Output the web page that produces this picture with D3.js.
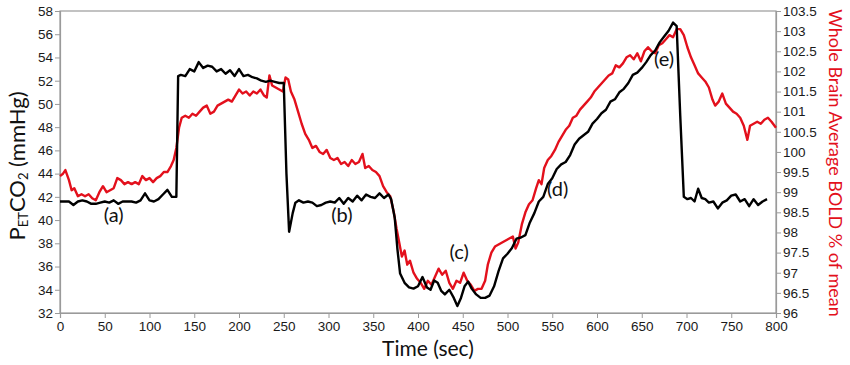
<!DOCTYPE html>
<html><head><meta charset="utf-8">
<script src="https://cdn.jsdelivr.net/npm/d3@7"></script>
<style>
html,body{margin:0;padding:0;background:#fff;}
svg{display:block;}
</style></head><body>
<svg id="chart" width="850" height="365"></svg>
<script>
// ---- data ----
const xTicks = [0,50,100,150,200,250,300,350,400,450,500,550,600,650,700,750,800];
const leftTicks = [32,34,36,38,40,42,44,46,48,50,52,54,56,58];
const rightTicks = [96,96.5,97,97.5,98,98.5,99,99.5,100,100.5,101,101.5,102,102.5,103,103.5];

const petTime = [0,5,10,15,20,25,30,35,40,45,50,55,60,65,70,75,80,85,90,95,100,105,110,115,120,125,130,132,
 135,140,145,150,155,160,165,170,175,180,185,190,195,200,205,210,215,220,225,230,235,240,245,250,253,256,260,263,267,
 272,277,282,287,292,297,302,307,312,317,322,327,332,337,342,347,352,357,362,367,370,374,377,380,385,390,395,400,405,
 410,414,418,422,426,430,435,440,444,448,452,456,460,465,470,475,480,485,490,495,500,505,510,515,520,525,530,535,540,
 545,550,555,560,565,570,575,580,585,590,595,600,605,610,615,620,625,630,635,640,645,650,655,660,665,670,675,680,685,
 689,693,697,701,705,709,713,717,721,725,730,735,740,745,750,755,760,765,770,775,780,785,790];
const petCO2 = [41.6,41.6,41.6,41.3,41.6,41.7,41.6,41.4,41.4,41.5,41.6,41.5,41.7,41.4,41.6,41.6,41.6,41.5,41.7,42.3,41.7,41.6,41.8,42.2,42.6,42.0,42.0,52.4,
 52.5,52.4,53.0,52.8,53.6,53.1,53.3,53.2,52.8,53.0,52.6,52.9,52.4,53.0,52.4,52.5,52.3,52.2,52.0,51.9,52.0,51.9,51.8,51.8,44.0,39.0,40.6,41.5,41.7,
 41.5,41.6,41.5,41.2,41.3,41.5,41.6,41.5,41.9,41.4,41.9,41.6,42.1,41.7,42.2,42.0,41.9,42.3,41.9,42.2,41.8,40.2,37.5,35.4,34.6,34.2,34.1,34.3,35.1,
 34.2,34.0,34.8,34.6,33.9,33.6,34.0,33.3,32.6,33.3,34.3,34.7,34.1,33.6,33.3,33.3,33.5,34.3,35.6,36.7,37.1,37.6,38.4,38.5,38.7,39.8,40.6,41.6,42.0,
 43.1,43.6,44.4,44.8,45.0,45.6,46.5,47.0,47.3,47.6,48.3,48.7,49.2,49.5,50.2,50.4,51.0,51.3,51.8,52.5,52.7,53.1,53.6,54.2,54.6,55.3,55.8,56.3,57.0,
 56.7,49.0,42.0,41.8,41.9,41.6,42.7,41.9,41.8,41.5,41.6,41.0,41.5,41.7,42.1,42.2,41.6,41.8,41.2,41.8,41.3,41.6,41.8];

const boldTime = [0,3,6,10,13,16,20,24,28,32,36,40,44,48,52,56,60,64,68,72,76,80,84,88,92,96,100,104,108,112,116,120,124,127,130,133,136,
 140,144,148,152,156,160,164,168,172,176,180,184,188,192,196,200,204,208,212,216,220,224,228,231,234,237,241,245,249,252,255,258,262,266,
 270,274,278,282,286,290,294,298,302,306,310,314,318,322,326,330,334,338,341,345,349,353,357,361,365,369,373,376,379,382,385,388,391,395,
 399,403,407,411,415,419,423,427,431,435,439,443,447,451,455,459,463,467,471,475,478,482,486,490,494,498,502,506,509,512,516,520,524,528,
 532,535,538,541,545,549,553,557,561,565,569,573,577,581,585,589,593,597,601,605,609,613,617,621,625,629,633,637,641,645,649,653,657,661,
 665,669,673,677,681,685,689,693,697,701,705,709,713,717,721,725,729,732,736,740,744,748,752,756,760,764,768,771,775,779,783,787,791,795,800];
const boldPct = [99.4,99.45,99.55,99.3,99.05,99.1,98.9,98.95,98.9,98.95,98.85,98.8,99.0,99.15,99.0,99.05,99.1,99.35,99.3,99.2,99.25,99.2,99.25,99.2,99.4,99.3,99.35,99.25,99.35,99.4,99.5,99.5,99.65,99.8,100.1,100.6,100.85,
 100.9,100.85,100.95,100.9,101.0,101.1,101.15,100.95,101.0,101.15,101.2,101.25,101.3,101.25,101.4,101.55,101.45,101.5,101.4,101.5,101.45,101.55,101.4,101.35,101.9,101.65,101.6,101.55,101.5,101.85,101.8,101.5,101.3,101.0,
 100.7,100.45,100.3,100.1,100.15,100.0,99.95,100.05,99.85,99.8,99.85,99.7,99.75,99.65,99.8,99.7,99.75,99.95,99.6,99.65,99.55,99.5,99.4,99.15,99.0,98.9,98.5,98.1,97.75,97.4,97.55,97.2,97.3,97.0,
 96.85,96.75,96.6,96.8,96.7,96.9,97.1,96.95,97.05,96.75,96.6,96.8,96.75,97.0,96.8,96.7,96.55,96.6,96.6,96.8,97.2,97.5,97.65,97.7,97.75,97.8,97.85,97.9,97.6,97.75,98.2,98.5,98.7,98.8,
 99.1,99.3,99.2,99.6,99.8,99.9,100.05,100.25,100.4,100.55,100.65,100.85,100.9,101.05,101.15,101.25,101.35,101.5,101.6,101.7,101.8,101.9,101.95,102.15,102.1,102.2,102.35,102.4,102.3,102.45,102.25,102.5,102.6,102.5,
 102.45,102.65,102.7,102.8,102.9,102.85,103.05,103.05,102.9,102.6,102.35,102.15,101.95,101.85,101.75,101.6,101.3,101.15,101.25,101.45,101.2,101.1,101.0,100.95,100.85,100.65,100.3,100.65,100.7,100.75,100.7,100.8,100.85,100.75,100.6];

const annotations = [
  {label:"(a)", t:60, v:40.3},
  {label:"(b)", t:315, v:40.3},
  {label:"(c)", t:446, v:37.1},
  {label:"(d)", t:556, v:42.5},
  {label:"(e)", t:675, v:53.7}
];

// ---- layout ----
const svg = d3.select("#chart");
const L = 60, R = 776, T = 11, B = 313;
const x = d3.scaleLinear().domain([0,800]).range([L,R]);
const yL = d3.scaleLinear().domain([32,58]).range([B,T]);
const yR = d3.scaleLinear().domain([96,103.5]).range([B,T]);

const axisColor = "#9a9a9a";
const tickFont = "'Liberation Sans', Arial, sans-serif";
const labelFont = "Lato, 'Open Sans', sans-serif";

// frame
svg.append("rect").attr("x",L).attr("y",T).attr("width",R-L).attr("height",B-T)
  .attr("fill","none").attr("stroke",axisColor).attr("stroke-width",1.2);

function styleAxis(g){
  g.select(".domain").attr("stroke",axisColor).attr("stroke-width",1.2);
  g.selectAll(".tick line").attr("stroke",axisColor).attr("stroke-width",1);
  g.selectAll(".tick text").attr("fill","#1a1a1a").style("font-family",tickFont).style("font-size","13.5px");
}

const gx = svg.append("g").attr("transform",`translate(0,${B})`)
  .call(d3.axisBottom(x).tickValues(xTicks).tickSize(5).tickPadding(3).tickFormat(d3.format("d")));
styleAxis(gx);

const gl = svg.append("g").attr("transform",`translate(${L},0)`)
  .call(d3.axisLeft(yL).tickValues(leftTicks).tickSize(5).tickPadding(2).tickFormat(d3.format("d")));
styleAxis(gl);

const gr = svg.append("g").attr("transform",`translate(${R},0)`)
  .call(d3.axisRight(yR).tickValues(rightTicks).tickSize(5).tickPadding(2).tickFormat(d=>String(d)));
styleAxis(gr);

// lines
const redLine = d3.line().x((d,i)=>x(boldTime[i])).y(d=>yR(d));
const blackLine = d3.line().x((d,i)=>x(petTime[i])).y(d=>yL(d));

svg.append("path").datum(boldPct).attr("d",redLine)
  .attr("fill","none").attr("stroke","#e3101c").attr("stroke-width",2.4).attr("stroke-linejoin","round");
svg.append("path").datum(petCO2).attr("d",blackLine)
  .attr("fill","none").attr("stroke","#000").attr("stroke-width",2.4).attr("stroke-linejoin","round");

// annotations
svg.selectAll(".ann").data(annotations).enter().append("text")
  .attr("x",d=>x(d.t)).attr("y",d=>yL(d.v))
  .attr("text-anchor","middle").attr("dominant-baseline","middle")
  .style("font-family",labelFont).style("font-size","20px").attr("fill","#111")
  .text(d=>d.label);

// axis titles
svg.append("text").attr("x",428).attr("y",356).attr("text-anchor","middle")
  .style("font-family",labelFont).style("font-size","21px").attr("fill","#111").text("Time (sec)");

const lt = svg.append("text").attr("transform","translate(25,166) rotate(-90)").attr("text-anchor","middle")
  .style("font-family",labelFont).style("font-size","22px").attr("fill","#111");
lt.append("tspan").text("P");
lt.append("tspan").attr("dy",3).style("font-size","13px").text("ET");
lt.append("tspan").attr("dy",-3).text("CO");
lt.append("tspan").attr("dy",3).style("font-size","13px").text("2");
lt.append("tspan").attr("dy",-3).text(" (mmHg)");

svg.append("text").attr("transform","translate(829,163) rotate(90)").attr("text-anchor","middle")
  .style("font-family",labelFont).style("font-size","18px").attr("fill","#e3101c")
  .text("Whole Brain Average BOLD % of mean");
</script>
</body></html>
